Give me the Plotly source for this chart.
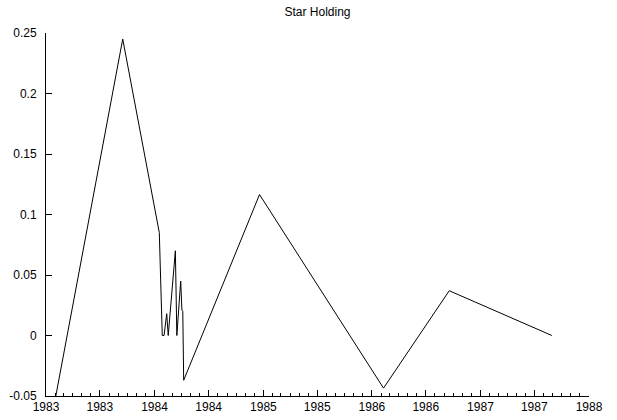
import plotly.graph_objects as go

# Data
dates = [
    "1983-02-03", "1983-09-16", "1984-01-17", "1984-01-20", "1984-01-27",
    "1984-02-02", "1984-02-11", "1984-02-16", "1984-03-11", "1984-03-16",
    "1984-03-29", "1984-04-02", "1984-04-05", "1984-04-08", "1984-12-19",
    "1986-02-09", "1986-09-18", "1987-08-29",
]
values = [
    -0.05, 0.245, 0.085, 0.055, 0.0,
    0.0, 0.018, 0.0, 0.070, 0.0,
    0.045, 0.021, 0.020, -0.037, 0.1165,
    -0.0435, 0.037, 0.0,
]
y_tickvals = [-0.05, 0, 0.05, 0.1, 0.15, 0.2, 0.25]
y_ticktext = ["-0.05", "0", "0.05", "0.1", "0.15", "0.2", "0.25"]
title_text = "Star Holding"

FONT = "Liberation Sans, Arial, sans-serif"

fig = go.Figure(
    go.Scatter(
        x=dates, y=values, mode="lines",
        line=dict(color="black", width=1),
        showlegend=False,
    )
)

fig.update_layout(
    width=617, height=420,
    margin=dict(l=46, r=28, t=33, b=24, autoexpand=False),
    paper_bgcolor="white", plot_bgcolor="white",
    font=dict(family=FONT, size=12, color="black"),
    title=dict(text=title_text, x=0.5, xref="paper", xanchor="center",
               y=1 - 12 / 420, yref="container", yanchor="middle",
               font=dict(family=FONT, size=12, color="black")),
)

fig.update_xaxes(
    type="date", automargin=False,
    range=["1983-01-01", "1988-01-01"],
    tick0="1983-01-01", dtick="M6", tickformat="%Y",
    ticks="inside", ticklen=6, tickcolor="black", tickwidth=1,
    minor=dict(dtick="M1", tick0="1983-01-01", ticks="inside", ticklen=3,
               tickcolor="black", tickwidth=1, showgrid=False),
    showline=True, linecolor="black", linewidth=1,
    showgrid=False, zeroline=False,
    tickfont=dict(family=FONT, size=12, color="black"),
)

fig.update_yaxes(
    automargin=False,
    range=[-0.05, 0.25],
    tickmode="array", tickvals=y_tickvals, ticktext=y_ticktext,
    ticks="inside", ticklen=6, tickcolor="black", tickwidth=1,
    showline=True, linecolor="black", linewidth=1,
    showgrid=False, zeroline=False,
    ticklabelstandoff=6,
    tickfont=dict(family=FONT, size=12, color="black"),
)

fig.write_html(
    "out.html",
    config={"displayModeBar": False},
    post_script="document.body.style.margin='0';document.body.style.padding='0';",
)
